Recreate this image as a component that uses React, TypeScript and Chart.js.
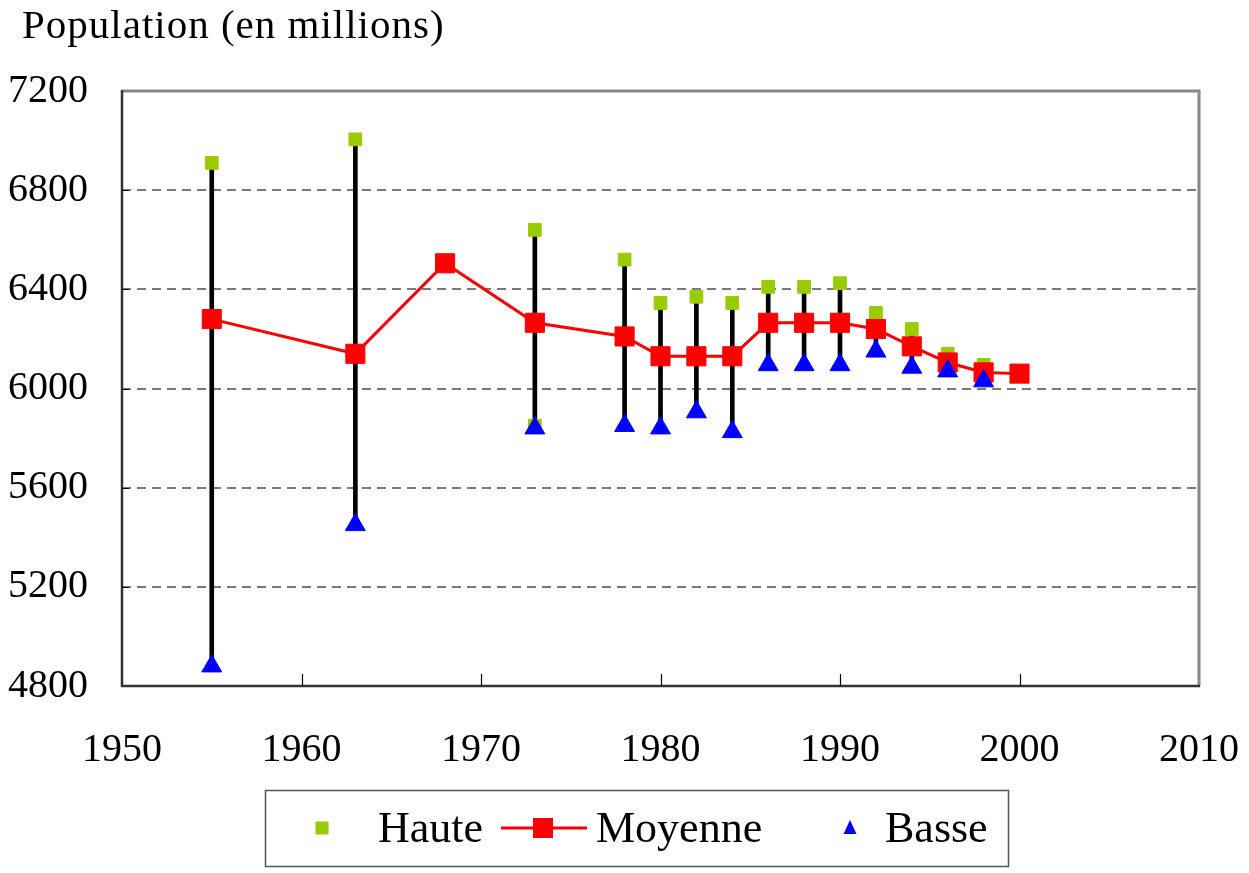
import React, { useEffect, useRef } from "react";
import { Chart, registerables } from "chart.js";

Chart.register(...registerables);

const years = [1955, 1963, 1968, 1973, 1978, 1980, 1982, 1984, 1986, 1988, 1990, 1992, 1994, 1996, 1998, 2000];
const moyenne = [6280, 6140, 6505, 6265, 6210, 6130, 6130, 6130, 6265, 6265, 6265, 6240, 6170, 6105, 6065, 6060];

const rangeYears = [1955, 1963, 1973, 1978, 1980, 1982, 1984, 1986, 1988, 1990, 1992, 1994, 1996, 1998];
const haute = [6910, 7005, 6640, 6520, 6345, 6370, 6345, 6410, 6410, 6425, 6305, 6240, 6140, 6095];
const basse = [4880, 5450, 5840, 5850, 5840, 5905, 5825, 6095, 6095, 6095, 6150, 6085, 6070, 6030];

const hauteExtraYears = [1973];
const hauteExtra = [5850];

const xTicks = [1950, 1960, 1970, 1980, 1990, 2000, 2010];
const yTicks = [4800, 5200, 5600, 6000, 6400, 6800, 7200];

const titleText = "Population (en millions)";
const legendLabels = ["Haute", "Moyenne", "Basse"];

const GREEN = "#99CC00";
const RED = "#FF0000";
const BLUE = "#0000FF";
const FONT = "'Liberation Serif', 'Times New Roman', serif";

const decorPlugin = {
  id: "decor",
  beforeDatasetsDraw(chart: any) {
    const { ctx, chartArea } = chart;
    const { left, right, top, bottom } = chartArea;
    const xs = chart.scales.x;
    const ys = chart.scales.y;
    ctx.save();
    ctx.strokeStyle = "#888888";
    ctx.lineWidth = 3;
    ctx.beginPath();
    ctx.moveTo(left, top);
    ctx.lineTo(right, top);
    ctx.lineTo(right, bottom);
    ctx.stroke();
    ctx.strokeStyle = "#333333";
    ctx.lineWidth = 2.5;
    ctx.beginPath();
    ctx.moveTo(left, top - 1);
    ctx.lineTo(left, bottom);
    ctx.lineTo(right + 1, bottom);
    ctx.stroke();
    ctx.lineWidth = 1.2;
    ctx.strokeStyle = "#000000";
    ctx.beginPath();
    xTicks.forEach((v) => {
      const px = Math.round(xs.getPixelForValue(v)) + 0.5;
      if (v === xTicks[0] || v === xTicks[xTicks.length - 1]) return;
      ctx.moveTo(px, bottom);
      ctx.lineTo(px, bottom - 12);
    });
    yTicks.forEach((v) => {
      const py = Math.round(ys.getPixelForValue(v)) + 0.5;
      if (v === yTicks[0] || v === yTicks[yTicks.length - 1]) return;
      ctx.moveTo(left, py);
      ctx.lineTo(left + 7, py);
    });
    ctx.stroke();
    ctx.restore();
  },
  afterDraw(chart: any) {
    const { ctx } = chart;
    ctx.save();
    ctx.fillStyle = "#000";
    ctx.font = `41px ${FONT}`;
    (ctx as any).letterSpacing = "1px";
    ctx.textAlign = "left";
    ctx.textBaseline = "alphabetic";
    ctx.fillText(titleText, 22, 38);
    (ctx as any).letterSpacing = "0px";

    ctx.strokeStyle = "#555555";
    ctx.lineWidth = 1.5;
    ctx.strokeRect(265.5, 790.5, 743, 76);

    const cy = 828;
    ctx.fillStyle = GREEN;
    ctx.fillRect(322 - 6.5, cy - 6.5, 13, 13);
    ctx.strokeStyle = RED;
    ctx.lineWidth = 3;
    ctx.beginPath();
    ctx.moveTo(501, cy);
    ctx.lineTo(587, cy);
    ctx.stroke();
    ctx.fillStyle = RED;
    ctx.fillRect(543 - 10, cy - 10, 20, 20);
    ctx.fillStyle = BLUE;
    ctx.beginPath();
    ctx.moveTo(850, cy - 8);
    ctx.lineTo(856.5, cy + 6);
    ctx.lineTo(843.5, cy + 6);
    ctx.closePath();
    ctx.fill();

    ctx.fillStyle = "#000";
    ctx.font = `44px ${FONT}`;
    ctx.textBaseline = "alphabetic";
    ctx.fillText(legendLabels[0], 378, 842);
    ctx.fillText(legendLabels[1], 596, 842);
    ctx.fillText(legendLabels[2], 885, 842);
    ctx.restore();
  },
};

export default function App() {
  const canvasRef = useRef<HTMLCanvasElement | null>(null);

  useEffect(() => {
    const canvas = canvasRef.current;
    if (!canvas) return;
    const chart = new Chart(canvas, {
      type: "scatter",
      data: {
        datasets: [
          {
            type: "bar",
            label: "range",
            data: rangeYears.map((x, i) => ({ x, y: [basse[i], haute[i]] })) as any,
            backgroundColor: "#000000",
            borderWidth: 0,
            barThickness: 4,
            order: 4,
          } as any,
          {
            type: "scatter",
            label: legendLabels[0],
            data: [
              ...rangeYears.map((x, i) => ({ x, y: haute[i] })),
              ...hauteExtraYears.map((x, i) => ({ x, y: hauteExtra[i] })),
            ],
            pointStyle: "rect",
            pointRadius: 9,
            backgroundColor: GREEN,
            borderColor: GREEN,
            borderWidth: 1,
            order: 3,
          },
          {
            type: "line",
            label: legendLabels[1],
            data: years.map((x, i) => ({ x, y: moyenne[i] })),
            borderColor: RED,
            borderWidth: 3,
            pointStyle: "rect",
            pointRadius: 13.5,
            pointBackgroundColor: RED,
            pointBorderColor: RED,
            pointBorderWidth: 1,
            tension: 0,
            fill: false,
            order: 2,
          },
          {
            type: "scatter",
            label: legendLabels[2],
            data: rangeYears.map((x, i) => ({ x, y: basse[i] })),
            pointStyle: "triangle",
            pointRadius: 11.5,
            backgroundColor: BLUE,
            borderColor: BLUE,
            borderWidth: 1,
            order: 1,
          },
        ],
      },
      options: {
        responsive: false,
        animation: false,
        devicePixelRatio: 1,
        layout: { padding: { top: 91, right: 50, left: 0, bottom: 0 } },
        plugins: {
          legend: { display: false },
          tooltip: { enabled: false },
          title: { display: false },
        },
        scales: {
          x: {
            type: "linear",
            min: 1950,
            max: 2010,
            offset: false,
            grid: { display: false, drawTicks: false },
            border: { display: false },
            afterFit: (s: any) => {
              s.height = 187;
              s.paddingLeft = 0;
              s.paddingRight = 0;
            },
            afterBuildTicks: (s: any) => {
              s.ticks = xTicks.map((v) => ({ value: v }));
            },
            ticks: {
              padding: 40,
              color: "#000",
              font: { family: FONT, size: 40 },
              maxRotation: 0,
              autoSkip: false,
              callback: (v: any) => String(v),
            },
          },
          y: {
            type: "linear",
            min: 4800,
            max: 7200,
            grid: {
              drawTicks: false,
              color: (c: any) =>
                c.tick && (c.tick.value === 4800 || c.tick.value === 7200) ? "rgba(0,0,0,0)" : "#7a7a7a",
              lineWidth: 2,
            },
            border: { display: false, dash: [9, 6] },
            afterFit: (s: any) => {
              s.width = 122;
              s.paddingTop = 0;
              s.paddingBottom = 0;
            },
            afterBuildTicks: (s: any) => {
              s.ticks = yTicks.map((v) => ({ value: v }));
            },
            ticks: {
              padding: 34,
              color: "#000",
              font: { family: FONT, size: 40 },
              autoSkip: false,
              callback: (v: any) => String(v),
            },
          },
        },
      },
      plugins: [decorPlugin],
    });
    return () => chart.destroy();
  }, []);

  return (
    <div style={{ position: "absolute", left: 0, top: 0, width: 1249, height: 873, background: "#fff" }}>
      <canvas ref={canvasRef} width={1249} height={873} style={{ display: "block" }} />
    </div>
  );
}
